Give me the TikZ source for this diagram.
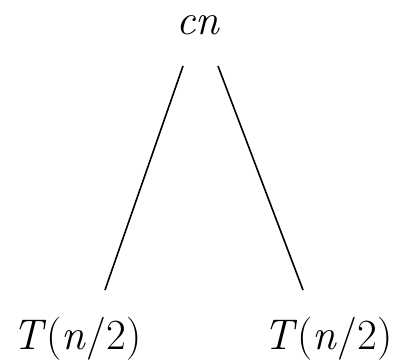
\documentclass[tikz,border=0pt]{standalone}
\usepackage{tikz}
\usetikzlibrary{positioning}

\begin{document}
\begin{tikzpicture}[x=1pt, y=1pt,
                term/.style={inner sep=0pt, anchor=base, font=\fontsize{43}{50}\selectfont},
                edge/.style={line width=1.6pt}
            ]
                \useasboundingbox (0,0) rectangle (395,359);
                \node (root) [term] at (198,324) {\textit{cn}};
                \node (left) [term] at (77,10) {\textit{T}(\textit{n}/2)};
                \node (right) [term] at (328,10) {\textit{T}(\textit{n}/2)};

                \coordinate (rootl) at (183,293);
                \coordinate (rootr) at (218,293);
                \coordinate (lefttop) at (105,69);
                \coordinate (righttop) at (303,69);

                \draw [edge] (rootl) -- (lefttop);
                \draw [edge] (rootr) -- (righttop);
            \end{tikzpicture}
\end{document}
